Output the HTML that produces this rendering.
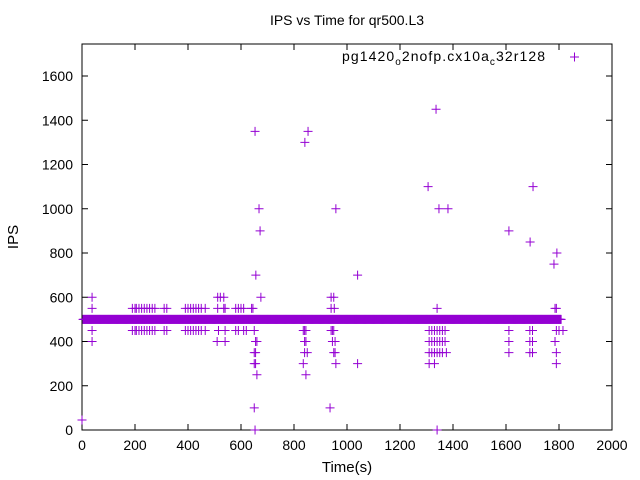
<!DOCTYPE html>
<html><head><meta charset="utf-8"><style>
body{margin:0;background:#fff}
svg{display:block;font-family:"Liberation Sans",sans-serif}
</style></head><body>
<svg id="chart" width="640" height="480">
<text x="347" y="25" font-size="14" text-anchor="middle">IPS vs Time for qr500.L3</text>
<rect x="82" y="44" width="530" height="386" fill="none" stroke="#000" stroke-width="1"/>
<g id="xaxis"></g>
<g id="yaxis"></g>
<text x="347" y="472" font-size="15" text-anchor="middle">Time(s)</text>
<text x="18" y="237" font-size="15" text-anchor="middle" transform="rotate(-90 18 237)">IPS</text>
<g>
<text x="342" y="61" font-size="14" textLength="203" lengthAdjust="spacing">pg1420<tspan font-size="10" dy="4">o</tspan><tspan dy="-4">2nofp.cx10a</tspan><tspan font-size="10" dy="4">c</tspan><tspan dy="-4">32r128</tspan></text>
<path d="M570 57h9M574.5 52.5v9" stroke="#9400d3" stroke-width="1"/>
</g>
<g id="points"></g>
</svg>
<script>
const xTicks=[0,200,400,600,800,1000,1200,1400,1600,1800,2000];
const yTicks=[0,200,400,600,800,1000,1200,1400,1600];
const bandRange=[4,1808];
const bandValue=500;
const times=[0,38,38,38,38,
190,200,205,215,225,235,245,255,265,275,190,200,205,215,225,235,245,255,265,275,310,320,310,320,
390,400,410,420,430,440,450,465,390,400,410,420,430,440,450,465,
512,522,535,512,535,540,515,540,510,540,
580,590,600,610,580,590,610,620,640,645,650,655,660,650,655,650,655,660,650,653,653,656,668,672,675,
835,841,853,835,840,845,840,845,850,840,845,
940,950,940,952,940,945,950,955,945,955,950,958,936,958,
1040,1040,
1306,1336,1347,1381,1340,1310,1320,1330,1340,1350,1360,1370,1310,1320,1330,1340,1350,1360,1370,1310,1320,1330,1340,1350,1360,1375,1310,1330,1340,
1611,1611,1611,1611,1691,1702,1690,1700,1690,1700,1690,1700,
1781,1792,1785,1790,1790,1800,1815,1785,1790,1790,1785];
const ips=[45,600,550,450,400,
550,550,550,550,550,550,550,550,550,550,450,450,450,450,450,450,450,450,450,450,550,550,450,450,
550,550,550,550,550,550,550,550,450,450,450,450,450,450,450,450,
600,600,600,550,550,550,450,450,400,400,
550,550,550,550,450,450,450,450,550,550,450,400,400,350,350,300,300,250,100,0,1350,700,1000,900,600,
300,1300,1350,450,450,450,400,400,350,350,250,
600,600,550,550,450,450,450,400,400,350,350,300,100,1000,
700,300,
1100,1450,1000,1000,550,450,450,450,450,450,450,450,400,400,400,400,400,400,400,350,350,350,350,350,350,350,300,300,0,
900,450,400,350,850,1100,450,450,400,400,350,350,
750,800,550,550,450,450,450,400,350,300,400];
const NS="http://www.w3.org/2000/svg";
const X=t=>82+t*530/2000, Y=v=>430-v*354/1600;
const xa=document.getElementById('xaxis'), ya=document.getElementById('yaxis'), pg=document.getElementById('points');
function mk(tag,attrs,parent){const e=document.createElementNS(NS,tag);for(const k in attrs)e.setAttribute(k,attrs[k]);parent.appendChild(e);return e;}
xTicks.forEach(t=>{
 const l=mk('path',{d:`M${X(t)} 430v-6M${X(t)} 44v6`,stroke:'#000'},xa);
 
 
 const tx=mk('text',{x:X(t),y:450,'font-size':14,'text-anchor':'middle'},xa);tx.textContent=t;
 
 
});
yTicks.forEach(v=>{
 const l=mk('path',{d:`M82 ${Y(v)}h6M612 ${Y(v)}h-6`,stroke:'#000'},ya);
 
 
 const tx=mk('text',{x:73,y:Y(v)+5,'font-size':14,'text-anchor':'end'},ya);tx.textContent=v;
 
 
});
function plus(t,v){
 const p=mk('path',{d:`M${X(t)-4.5} ${Y(v)}h9M${X(t)} ${Y(v)-4.5}v9`,stroke:'#9400d3','stroke-width':1},pg);
 
 
}
for(let t=bandRange[0];t<=bandRange[1];t+=2)plus(t,bandValue);
times.forEach((t,i)=>plus(t,ips[i]));
</script>
</body></html>
